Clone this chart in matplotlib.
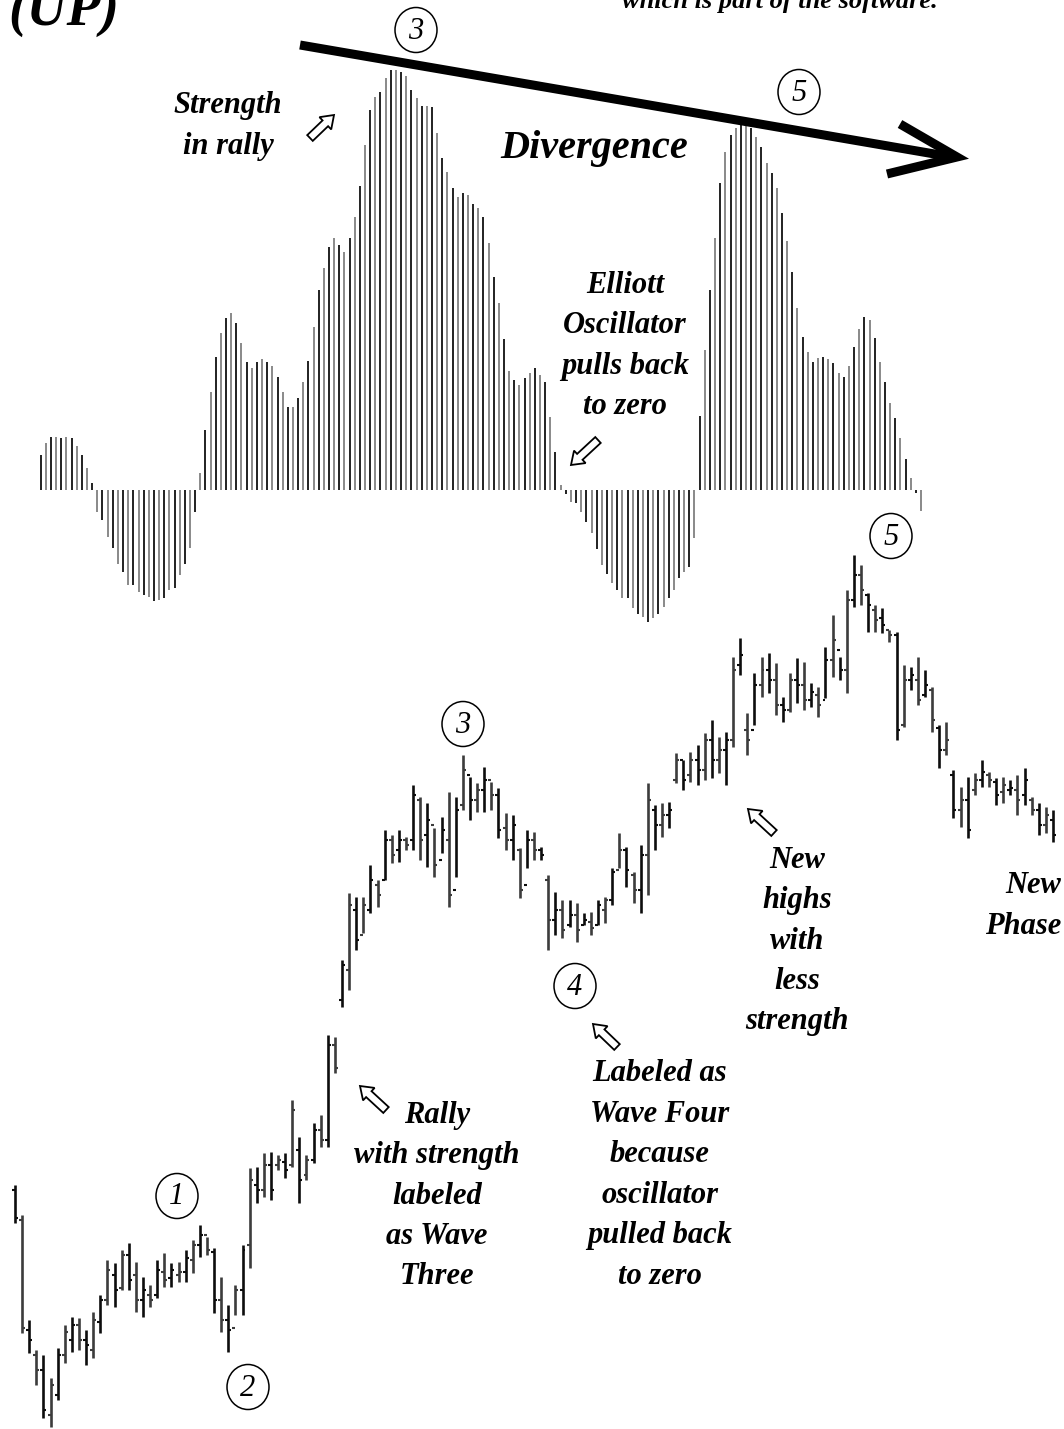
import matplotlib
matplotlib.use("Agg")
import matplotlib.pyplot as plt
from matplotlib.patches import FancyArrow, Ellipse

# Elliott oscillator, one value per bar (0 = zero line)
osc = [35, 47, 53, 53, 52, 53, 52, 44, 35, 22, 7,
       -22, -30, -47, -58, -74, -82, -95, -95, -102, -105, -107, -111, -110, -108, -100, -98, -85, -74, -58, -22,
       17, 60, 98, 133, 157, 172, 177, 167, 147, 128, 122, 128, 131, 128, 124, 113, 98, 83, 83, 92, 108, 129, 163,
       200, 222, 243, 252, 245, 238, 252, 273, 304, 345, 380, 393, 398, 412, 420, 420,
       418, 414, 400, 392, 384, 384, 383, 357, 332, 318, 302, 293, 297, 295, 286, 282,
       273, 247, 213, 187, 151, 119, 110, 105, 112, 117, 122, 115, 108, 73, 38,
       5, -4, -12, -13, -22, -32, -43, -59, -75, -84, -93, -100, -108, -108, -118, -124,
       -127, -132, -128, -124, -117, -108, -100, -88, -82, -77, -48,
       74, 140, 200, 252, 307, 338, 355, 362, 365, 365, 362, 353, 343, 327, 317, 302,
       277, 249, 218, 182, 153, 138, 128, 132, 133, 131, 127, 117, 113, 124, 143, 161,
       173, 170, 152, 128, 108, 87, 72, 52, 31, 12, -3, -21]

# price bars
highs = [255, 225, 120, 90, 85, 62, 92, 115, 123, 122, 110, 128, 145, 180, 177, 190, 197, 178, 163, 155,
         180, 187, 177, 178, 190, 200, 215, 203, 192, 163, 135, 155, 195, 272, 273, 287, 288, 285, 287, 340,
         303, 285, 317, 325, 405, 403, 480, 547, 543, 543, 575, 560, 610, 605, 610, 603, 655, 643, 637, 612,
         623, 648, 643, 685, 663, 657, 673, 658, 652, 627, 625, 592, 610, 608, 593, 565, 548, 540, 540, 537,
         527, 528, 540, 543, 572, 607, 593, 568, 595, 657, 635, 637, 638, 687, 680, 688, 695, 707, 720, 703,
         708, 783, 802, 727, 767, 783, 787, 777, 743, 767, 782, 778, 757, 753, 793, 825, 783, 850, 885, 875,
         847, 835, 832, 810, 808, 775, 773, 783, 770, 753, 715, 718, 670, 653, 663, 667, 680, 668, 662, 663,
         660, 665, 672, 643, 637, 633, 630]
lows = [217, 107, 87, 55, 22, 13, 40, 77, 88, 90, 75, 82, 107, 135, 133, 150, 150, 128, 123, 133,
        142, 153, 153, 158, 158, 167, 183, 185, 127, 108, 88, 125, 125, 172, 237, 243, 240, 270, 262, 273,
        237, 260, 277, 293, 293, 367, 433, 450, 490, 507, 527, 533, 560, 577, 578, 590, 590, 580, 573, 563,
        587, 533, 563, 630, 620, 628, 628, 630, 602, 590, 580, 542, 572, 580, 580, 490, 505, 502, 513, 498,
        515, 505, 515, 517, 535, 572, 553, 537, 527, 545, 590, 603, 612, 657, 650, 658, 655, 660, 662, 667,
        655, 693, 765, 685, 715, 743, 747, 725, 718, 728, 737, 730, 733, 723, 742, 763, 760, 747, 833, 835,
        808, 808, 807, 798, 700, 713, 750, 735, 743, 708, 672, 685, 622, 613, 602, 645, 653, 653, 635, 637,
        645, 625, 635, 625, 605, 607, 598]
opens = [250, 220, 110, 85, 70, 25, 45, 85, 100, 115, 100, 90, 118, 140, 165, 152, 185, 165, 140, 145,
         145, 168, 162, 165, 168, 180, 195, 205, 188, 140, 120, 112, 150, 195, 255, 250, 275, 275, 278, 275,
         290, 265, 280, 310, 300, 395, 440, 470, 530, 505, 530, 555, 560, 600, 590, 600, 600, 640, 605, 615,
         580, 600, 550, 635, 665, 640, 650, 660, 645, 612, 600, 590, 555, 600, 590, 560, 520, 530, 515, 525,
         515, 518, 515, 530, 540, 570, 590, 565, 550, 585, 630, 615, 625, 660, 680, 665, 680, 670, 700, 680,
         690, 700, 775, 710, 710, 755, 770, 760, 735, 730, 760, 755, 740, 745, 740, 780, 790, 770, 840, 865,
         845, 830, 822, 810, 805, 715, 760, 760, 745, 750, 712, 690, 665, 630, 640, 650, 660, 665, 658, 648,
         650, 650, 645, 640, 630, 615, 620]
closes = [222, 112, 100, 70, 30, 55, 85, 108, 115, 100, 95, 120, 140, 170, 150, 185, 160, 140, 150, 140,
          170, 160, 170, 168, 182, 195, 205, 190, 140, 120, 110, 150, 190, 260, 250, 275, 250, 280, 270, 330,
          260, 280, 310, 300, 395, 372, 475, 535, 500, 535, 560, 545, 600, 585, 600, 595, 645, 600, 620, 575,
          610, 545, 630, 670, 640, 650, 660, 645, 610, 600, 615, 550, 600, 590, 585, 520, 530, 510, 525, 510,
          520, 512, 535, 540, 568, 590, 570, 550, 585, 640, 615, 625, 630, 680, 660, 680, 670, 700, 680, 690,
          700, 770, 785, 700, 755, 770, 760, 735, 730, 760, 755, 740, 748, 735, 780, 800, 770, 840, 865, 850,
          835, 820, 815, 805, 710, 760, 765, 740, 755, 720, 690, 700, 630, 640, 610, 660, 668, 660, 645, 655,
          652, 640, 660, 630, 615, 625, 605]

W, H = 1064, 1429
fig = plt.figure(figsize=(W / 100, H / 100), dpi=100)
fig.patch.set_facecolor("white")


def px_axes(left, right, top, bottom):
    return fig.add_axes([left / W, 1 - bottom / H, (right - left) / W, (bottom - top) / H])


# oscillator panel: zero line at y=490 px
n = len(osc)
step = (921 - 40.7) / (n - 1)
ax1 = px_axes(40.7 - step / 2, 921 + step / 2, 490 - 440, 490 + 140)
xs = list(range(n))
ax1.vlines(xs, 0, osc, colors=["#101010" if i % 2 == 0 else "#808080" for i in xs], lw=1.3)
ax1.set_xlim(-0.5, n - 0.5)
ax1.set_ylim(-140, 440)
ax1.axis("off")

# price panel
m = len(highs)
pstep = (1053 - 15) / (m - 1)
ax2 = px_axes(15 - pstep / 2, 1053 + pstep / 2, 540, 1429)
ix = list(range(m))
pc = ["#0d0d0d" if i % 2 == 0 else "#3c3c3c" for i in ix]
ax2.vlines(ix, lows, highs, colors=pc, lw=1.9)
ax2.hlines(opens, [i - 0.42 for i in ix], ix, colors=pc, lw=1.5)
ax2.hlines(closes, ix, [i + 0.42 for i in ix], colors=pc, lw=1.5)
ax2.set_xlim(-0.5, m - 0.5)
ax2.set_ylim(11, 900)
ax2.axis("off")

# annotation layer in pixel coordinates
ax = fig.add_axes([0, 0, 1, 1])
ax.set_xlim(0, W)
ax.set_ylim(H, 0)
ax.axis("off")
ax.patch.set_alpha(0)

serif = dict(family="Liberation Serif", weight="bold", style="italic", color="black")

# both header lines are clipped by the top edge in the source scan
ax.text(8, 25, "(UP)", fontsize=40, va="baseline", **serif)
ax.text(622, 8, "which is part of the software.", fontsize=19, va="baseline", **serif)

# divergence line
ax.plot([300, 952], [45, 157], color="black", lw=6.5, solid_capstyle="butt")
ax.plot([900, 957, 887], [124, 157, 174], color="black", lw=6.5,
        solid_joinstyle="miter", solid_capstyle="butt")
ax.text(594, 148, "Divergence", fontsize=29, ha="center", va="center", **serif)

notes = [
    (228, 126, "Strength\nin rally"),
    (625, 346, "Elliott\nOscillator\npulls back\nto zero"),
    (437, 1196, "Rally\nwith strength\nlabeled\nas Wave\nThree"),
    (660, 1175, "Labeled as\nWave Four\nbecause\noscillator\npulled back\nto zero"),
    (797, 941, "New\nhighs\nwith\nless\nstrength"),
]
for x, y, s in notes:
    ax.text(x, y, s, fontsize=22, ha="center", va="center", multialignment="center",
            linespacing=1.52, **serif)
ax.text(1061, 906, "New\nPhase", fontsize=22, ha="right", va="center", multialignment="right",
        linespacing=1.52, **serif)

# hollow pointer arrows (tail -> head)
pointers = [((310, 138), (334, 115)), ((598, 440), (571, 465)), ((386, 1110), (360, 1086)),
            ((617, 1047), (593, 1024)), ((774, 833), (748, 809))]
for (x0, y0), (x1, y1) in pointers:
    ax.add_patch(FancyArrow(x0, y0, x1 - x0, y1 - y0, width=8, head_width=17, head_length=12,
                            length_includes_head=True, fc="white", ec="black", lw=1.3))

# circled wave labels
waves = [("3", 416, 30), ("5", 799, 92), ("1", 177, 1196), ("2", 248, 1387),
         ("3", 463, 724), ("4", 575, 986), ("5", 891, 536)]
for lab, x, y in waves:
    ax.add_patch(Ellipse((x, y), 42, 45, fc="white", ec="black", lw=1.1))
    ax.text(x, y + 1, lab, fontsize=22, ha="center", va="center",
            family="Liberation Serif", style="italic", color="black")

fig.savefig("out.png", dpi=100, facecolor="white")
